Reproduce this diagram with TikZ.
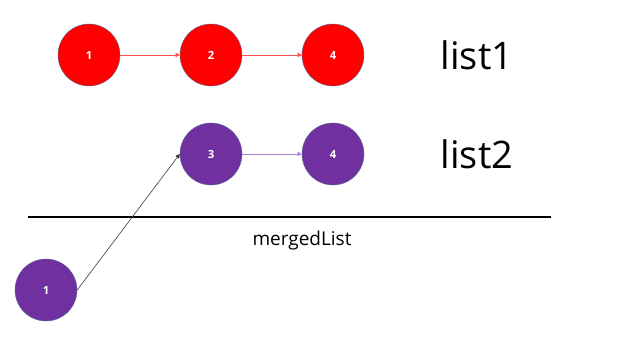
\documentclass[tikz,border=0pt]{standalone}
\usepackage{fontspec}
\setmainfont{Open Sans}
\usetikzlibrary{arrows.meta, positioning}
\definecolor{listred}{RGB}{255,0,0}
\definecolor{listpurple}{RGB}{112,48,160}
\definecolor{rimblue}{RGB}{90,110,150}

\begin{document}
\begin{tikzpicture}[x=0.025cm, y=-0.025cm,
    item/.style={circle, draw=rimblue, line width=0.3pt, minimum size=1.55cm, inner sep=0pt, text=white, font=\footnotesize\bfseries},
    reditem/.style={item, fill=listred},
    purpleitem/.style={item, fill=listpurple},
    link/.style={-{Triangle[length=3pt, width=3pt]}, line width=0.4pt},
    title/.style={font=\fontsize{27}{30}\selectfont}
]
    \useasboundingbox (0,0) rectangle (640,360);

    % list1
    \node[reditem] (a1) at (89,55) {1};
    \node[reditem] (a2) at (211,55) {2};
    \node[reditem] (a4) at (333,55) {4};
    \node[title] (l1) at (477,55) {list1};

    % list2
    \node[purpleitem] (b3) at (211,154) {3};
    \node[purpleitem] (b4) at (333,154) {4};
    \node[title] (l2) at (477,154) {list2};

    % merged
    \coordinate (sepL) at (28,217);
    \coordinate (sepR) at (551,217);
    \draw[line width=1.5pt] (sepL) -- (sepR);
    \node[font=\fontsize{13.5}{16}\selectfont] (ml) at (302,241) {mergedList};
    \node[purpleitem] (m1) at (46,290) {1};

    % Arrows
    \draw[link, red!70] (a1) -- (a2);
    \draw[link, red!70] (a2) -- (a4);
    \draw[link, listpurple!60] (b3) -- (b4);
    \draw[link, black!80] (m1.east) -- (b3.west);
\end{tikzpicture}
\end{document}
